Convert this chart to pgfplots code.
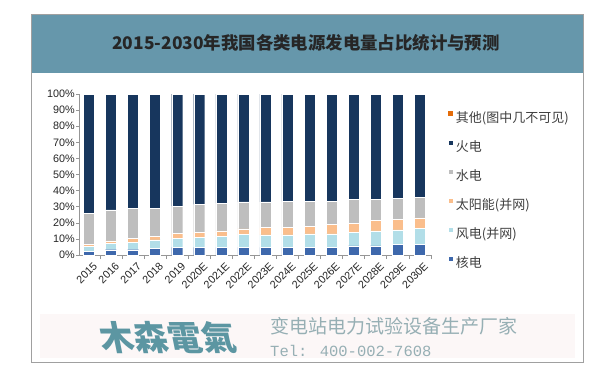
\documentclass[border=0pt]{standalone}
\usepackage{pgfplots}
\usepackage{pgfplotstable}
\pgfplotsset{compat=1.18}
\usepackage{fontspec}
\setmainfont{Liberation Sans}
\newfontfamily\cjk{Noto Sans CJK SC}
\newfontfamily\monofont{Liberation Mono}
\definecolor{titleband}{RGB}{102,151,171}
\definecolor{framegray}{RGB}{160,160,160}
\definecolor{axgray}{RGB}{150,150,150}
\definecolor{cnuc}{RGB}{62,104,172}
\definecolor{cwind}{RGB}{178,222,232}
\definecolor{csolar}{RGB}{250,190,140}
\definecolor{chydro}{RGB}{190,190,190}
\definecolor{cthermal}{RGB}{23,54,93}
\definecolor{cother}{RGB}{228,108,10}
\definecolor{textgray}{RGB}{64,64,64}
\definecolor{wmteal}{RGB}{92,150,162}
\definecolor{wmgray}{RGB}{150,175,180}
\definecolor{wmbg}{RGB}{252,247,247}
\pgfplotstableread{
x nuc wind solar hydro thermal other
0  2.3 2.9 1.3  19.3  74.2 0
1  3.3 3.8 1.65 19.35 71.9 0
2  3.3 4.4 2.5  18.8  71.0 0
3  4.2 5.2 2.3  17.3  71.0 0
4  4.8 5.4 3.1  17.1  69.6 0
5  4.8 6.0 3.2  17.5  68.5 0
6  4.8 6.9 3.3  17.0  68.0 0
7  4.8 7.9 3.55 16.75 67.0 0
8  4.8 7.7 4.5  16.0  67.0 0
9  4.8 7.7 4.5  16.3  66.7 0
10 4.8 8.3 4.8  15.6  66.5 0
11 4.8 8.3 5.9  14.5  66.5 0
12 5.6 8.4 5.8  14.6  65.6 0
13 5.6 9.4 6.5  12.9  65.6 0
14 6.5 9.1 6.4  13.4  64.6 0
15 6.5 10.0 6.5 13.0  64.0 0
}\datatable
\begin{document}
\begin{tikzpicture}[x=1pt,y=1pt]
\useasboundingbox (0,0) rectangle (600,-372);
\fill[white] (0,0) rectangle (600,-372);
\fill[titleband] (31,-14) rectangle (583,-73);
\draw[framegray, line width=1pt] (31,-14) rectangle (583,-362);
\node[font=\cjk\bfseries\fontsize{17.4}{19}\selectfont, text=black!85] at (306,-43) {2015-2030年我国各类电源发电量占比统计与预测};
% watermark
\fill[wmbg] (40,-314) rectangle (575,-358);
\node[anchor=west, font=\cjk\bfseries\fontsize{34}{36}\selectfont, text=wmteal, xslant=-0.2, inner sep=0pt] at (100,-338) {木森電氣};
\node[anchor=west, font=\cjk\fontsize{19}{21}\selectfont, text=wmgray, inner sep=0pt] at (270,-326) {变电站电力试验设备生产厂家};
\node[anchor=west, font=\monofont\fontsize{15.5}{17}\selectfont, text=wmgray, inner sep=0pt] at (270,-351) {Tel: 400-002-7608};
\begin{axis}[
  at={(79pt,-255pt)}, anchor=south west, scale only axis,
  width=353pt, height=161pt,
  ybar stacked, bar width=11pt,
  xmin=-0.45, xmax=15.55, ymin=0, ymax=100,
  axis lines*=left,
  axis line style={draw=axgray, line width=0.8pt},
  xtick={0,...,15},
  xticklabels={2015,2016,2017,2018,2019,2020E,2021E,2022E,2023E,2024E,2025E,2026E,2027E,2028E,2029E,2030E},
  major x tick style={draw=none},
  minor xtick={0.5,1.5,...,15.5},
  x tick label style={rotate=45, anchor=north east, font=\fontsize{10.8}{12}\selectfont, inner sep=1pt, text=black!85, yshift=-4pt, xshift=1pt},
  ytick={0,10,...,100},
  yticklabels={0\%,10\%,20\%,30\%,40\%,50\%,60\%,70\%,80\%,90\%,100\%},
  y tick label style={font=\fontsize{10.8}{12}\selectfont, inner sep=1pt, text=black!85},
  tick align=outside, tick style={draw=axgray, line width=0.6pt},
  major tick length=3pt, minor tick length=4pt,
  legend image code/.code={\fill[#1] (0pt,2.5pt) rectangle (5pt,7.5pt);},
  reverse legend,
  legend style={at={(1.035,0.905)}, anchor=north west, draw=none, fill=none,
    font=\cjk\fontsize{13}{15}\selectfont, text=textgray,
    nodes={inner sep=0pt, text height=10pt, text depth=2pt},
    row sep=15.2pt, column sep=3pt},
  legend cell align=left,
]
\addplot[fill=cnuc, draw=white, line width=0.3pt] table[x=x,y=nuc]{\datatable};
\addplot[fill=cwind, draw=white, line width=0.3pt] table[x=x,y=wind]{\datatable};
\addplot[fill=csolar, draw=white, line width=0.3pt] table[x=x,y=solar]{\datatable};
\addplot[fill=chydro, draw=white, line width=0.3pt] table[x=x,y=hydro]{\datatable};
\addplot[fill=cthermal, draw=white, line width=0.3pt] table[x=x,y=thermal]{\datatable};
\addplot[fill=cother, draw=none] table[x=x,y=other]{\datatable};
\legend{核电,风电(并网),太阳能(并网),水电,火电,其他(图中几不可见)}
\end{axis}
\end{tikzpicture}
\end{document}
